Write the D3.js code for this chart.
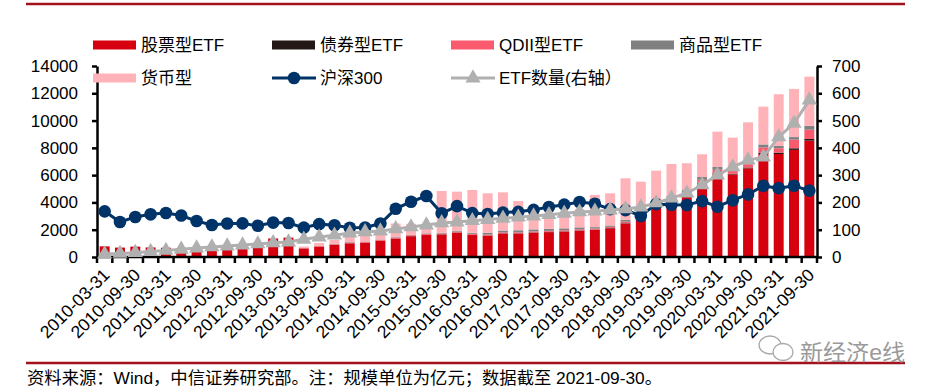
<!DOCTYPE html>
<html>
<head>
<meta charset="utf-8">
<script src="https://cdn.jsdelivr.net/npm/d3@7"></script>
<style>
body { margin: 0; background: #fff; }
svg text { font-family: "Liberation Sans", Arial, "Noto Sans CJK SC", sans-serif; fill: #000; }
</style>
</head>
<body>
<svg id="chart" width="936" height="392"></svg>
<script>
// Quarter-end dates
var quarters = [
    "2010-03-31", "2010-06-30", "2010-09-30", "2010-12-31",
    "2011-03-31", "2011-06-30", "2011-09-30", "2011-12-31",
    "2012-03-31", "2012-06-30", "2012-09-30", "2012-12-31",
    "2013-03-31", "2013-06-30", "2013-09-30", "2013-12-31",
    "2014-03-31", "2014-06-30", "2014-09-30", "2014-12-31",
    "2015-03-31", "2015-06-30", "2015-09-30", "2015-12-31",
    "2016-03-31", "2016-06-30", "2016-09-30", "2016-12-31",
    "2017-03-31", "2017-06-30", "2017-09-30", "2017-12-31",
    "2018-03-31", "2018-06-30", "2018-09-30", "2018-12-31",
    "2019-03-31", "2019-06-30", "2019-09-30", "2019-12-31",
    "2020-03-31", "2020-06-30", "2020-09-30", "2020-12-31",
    "2021-03-31", "2021-06-30", "2021-09-30"
];

// ETF size by type (亿元)
var stockEtf = [780, 690, 760, 700, 680, 660, 580, 620, 650, 700,
    720, 1350, 1400, 620, 760, 880, 1000, 1050, 1200, 1350,
    1520, 1610, 1650, 1780, 1610, 1560, 1720, 1720, 1780, 1820,
    1860, 1920, 1980, 2100, 2450, 2900, 3850, 4150, 4500, 5400,
    6100, 6050, 6500, 7550, 7550, 7850, 8530];
var bondEtf = [0, 0, 0, 0, 0, 0, 0, 0, 0, 0,
    0, 0, 0, 10, 10, 10, 10, 10, 10, 15,
    15, 20, 20, 20, 20, 20, 20, 20, 25, 25,
    25, 30, 30, 30, 30, 30, 40, 40, 40, 40,
    40, 50, 60, 80, 100, 120, 120];
var qdiiEtf = [0, 0, 0, 0, 0, 0, 0, 0, 0, 0,
    20, 30, 40, 40, 40, 45, 50, 50, 50, 55,
    60, 60, 60, 60, 70, 70, 70, 70, 70, 70,
    75, 80, 80, 80, 110, 120, 150, 150, 180, 220,
    250, 200, 250, 400, 320, 630, 680];
var commodityEtf = [0, 0, 0, 0, 0, 0, 0, 0, 0, 0,
    0, 0, 0, 0, 20, 25, 30, 30, 30, 35,
    40, 45, 50, 60, 70, 130, 130, 150, 150, 150,
    140, 140, 100, 100, 140, 150, 160, 160, 180, 200,
    210, 200, 190, 220, 170, 190, 290];
var moneyEtf = [0, 0, 0, 0, 0, 0, 0, 0, 0, 0,
    0, 0, 0, 100, 200, 300, 400, 500, 600, 1000,
    800, 700, 3060, 2870, 3140, 2890, 2800, 2140, 1280, 1040,
    1100, 1330, 2360, 2360, 3040, 2320, 2130, 2320, 1970, 1670,
    2590, 2250, 2870, 2770, 3790, 3530, 3600];

// 沪深300 close
var hs300 = [3346, 2564, 2936, 3128, 3223, 3044, 2634, 2346, 2455, 2462,
    2293, 2523, 2495, 2152, 2409, 2331, 2146, 2165, 2450, 3533,
    4051, 4473, 3203, 3731, 3218, 3154, 3253, 3310, 3456, 3666,
    3837, 4031, 3899, 3510, 3438, 3011, 3873, 3826, 3815, 4097,
    3687, 4164, 4587, 5211, 5048, 5224, 4866];

// ETF count (right axis)
var etfCount = [11, 13, 16, 20, 24, 28, 33, 37, 40, 44,
    48, 52, 55, 65, 73, 80, 88, 92, 95, 103,
    110, 117, 125, 128, 133, 137, 142, 146, 150, 155,
    160, 165, 168, 172, 176, 183, 198, 216, 234, 264,
    300, 330, 355, 366, 440, 490, 575];

var leftTicks = [0, 2000, 4000, 6000, 8000, 10000, 12000, 14000];
var rightTicks = [0, 100, 200, 300, 400, 500, 600, 700];

var seriesNames = ["股票型ETF", "债券型ETF", "QDII型ETF", "商品型ETF", "货币型"];
var seriesColors = ["#d7000f", "#231815", "#fa5a6e", "#808080", "#ffb3b9"];
var hsColor = "#003468", cntColor = "#b0b0b0";

var svg = d3.select("#chart");
var plotLeft = 97, plotRight = 817, plotTop = 66, plotBottom = 257;

var x = d3.scaleBand().domain(quarters).range([plotLeft, plotRight])
    .paddingInner(0.35).paddingOuter(0.175);
var y = d3.scaleLinear().domain([0, 14000]).range([plotBottom, plotTop]);
var y2 = d3.scaleLinear().domain([0, 700]).range([plotBottom, plotTop]);

// stacked bars
var keys = ["stock", "bond", "qdii", "commodity", "money"];
var table = quarters.map(function(q, i) {
    return { q: q, stock: stockEtf[i], bond: bondEtf[i], qdii: qdiiEtf[i],
        commodity: commodityEtf[i], money: moneyEtf[i] };
});
var stacked = d3.stack().keys(keys)(table);

svg.append("g").selectAll("g")
    .data(stacked)
    .enter().append("g")
    .attr("fill", (d, i) => seriesColors[i])
    .selectAll("rect")
    .data(d => d)
    .enter().append("rect")
    .attr("x", d => x(d.data.q))
    .attr("width", x.bandwidth())
    .attr("y", d => y(d[1]))
    .attr("height", d => Math.max(0, y(d[0]) - y(d[1])));

// axes
var step = x.step();
var axisG = svg.append("g");
axisG.append("line")
    .attr("x1", plotLeft).attr("x2", plotRight)
    .attr("y1", plotBottom).attr("y2", plotBottom)
    .attr("stroke", "#000").attr("stroke-width", 2.5);
axisG.selectAll(".xt")
    .data(d3.range(quarters.length + 1))
    .enter().append("line")
    .attr("x1", k => x(quarters[0]) - step * 0.175 + k * step)
    .attr("x2", k => x(quarters[0]) - step * 0.175 + k * step)
    .attr("y1", plotBottom).attr("y2", plotBottom + 6)
    .attr("stroke", "#000").attr("stroke-width", 2.5);

var leftAxis = svg.append("g")
    .attr("transform", "translate(" + plotLeft + ",0)")
    .call(d3.axisLeft(y).tickValues(leftTicks).tickFormat(d3.format("d"))
        .tickSize(5).tickSizeOuter(0).tickPadding(14));
var rightAxis = svg.append("g")
    .attr("transform", "translate(" + plotRight + ",0)")
    .call(d3.axisRight(y2).tickValues(rightTicks).tickFormat(d3.format("d"))
        .tickSize(5).tickSizeOuter(0).tickPadding(10));
[leftAxis, rightAxis].forEach(function(g) {
    g.select(".domain").attr("stroke", "#000").attr("stroke-width", 2.5);
    g.selectAll(".tick line").attr("stroke", "#000").attr("stroke-width", 2.5);
    g.selectAll(".tick text").style("font-size", "17px").attr("fill", "#000");
});

// x labels, every other quarter
svg.append("g").selectAll("text")
    .data(quarters.filter((d, i) => i % 2 === 0))
    .enter().append("text")
    .attr("transform", d => "translate(" + (x(d) + x.bandwidth() / 2 + 6) + "," + (plotBottom + 19) + ") rotate(-45)")
    .attr("text-anchor", "end")
    .style("font-size", "17.5px")
    .text(d => d);

// 沪深300 line
var hsLine = d3.line().x((d, i) => x(quarters[i]) + x.bandwidth() / 2).y(d => y(d));
svg.append("path").datum(hs300)
    .attr("d", hsLine).attr("fill", "none")
    .attr("stroke", hsColor).attr("stroke-width", 3);
svg.append("g").selectAll("circle")
    .data(hs300).enter().append("circle")
    .attr("cx", (d, i) => x(quarters[i]) + x.bandwidth() / 2)
    .attr("cy", d => y(d))
    .attr("r", 6.3).attr("fill", hsColor);

// ETF count line
var cntLine = d3.line().x((d, i) => x(quarters[i]) + x.bandwidth() / 2).y(d => y2(d));
svg.append("path").datum(etfCount)
    .attr("d", cntLine).attr("fill", "none")
    .attr("stroke", cntColor).attr("stroke-width", 3);
var tri = d3.symbol().type(d3.symbolTriangle).size(100);
svg.append("g").selectAll("path")
    .data(etfCount).enter().append("path")
    .attr("d", tri)
    .attr("transform", (d, i) => "translate(" + (x(quarters[i]) + x.bandwidth() / 2) + "," + y2(d) + ")")
    .attr("fill", cntColor);

// legend
var legendCols = [93, 272, 451, 631];
var legendRows = [45, 78];
var legendItems = [
    { name: seriesNames[0], type: "rect", color: seriesColors[0], col: 0, row: 0 },
    { name: seriesNames[1], type: "rect", color: seriesColors[1], col: 1, row: 0 },
    { name: seriesNames[2], type: "rect", color: seriesColors[2], col: 2, row: 0 },
    { name: seriesNames[3], type: "rect", color: seriesColors[3], col: 3, row: 0 },
    { name: seriesNames[4], type: "rect", color: seriesColors[4], col: 0, row: 1 },
    { name: "沪深300", type: "circle", color: hsColor, col: 1, row: 1 },
    { name: "ETF数量(右轴）", type: "tri", color: cntColor, col: 2, row: 1 }
];
var leg = svg.append("g").selectAll("g")
    .data(legendItems).enter().append("g")
    .attr("transform", d => "translate(" + legendCols[d.col] + "," + legendRows[d.row] + ")");
leg.filter(d => d.type === "rect").append("rect")
    .attr("x", 0).attr("y", -4.5).attr("width", 43).attr("height", 9)
    .attr("fill", d => d.color);
leg.filter(d => d.type !== "rect").append("line")
    .attr("x1", 0).attr("x2", 44).attr("y1", 0).attr("y2", 0)
    .attr("stroke", d => d.color).attr("stroke-width", 3);
leg.filter(d => d.type === "circle").append("circle")
    .attr("cx", 22).attr("cy", 0).attr("r", 6.3).attr("fill", d => d.color);
leg.filter(d => d.type === "tri").append("path")
    .attr("d", tri).attr("transform", "translate(22,0)").attr("fill", d => d.color);
leg.append("text")
    .attr("x", 48).attr("y", 6)
    .style("font-size", "17px")
    .text(d => d.name);

// frame lines and note
svg.append("line").attr("x1", 26).attr("x2", 905).attr("y1", 4).attr("y2", 4)
    .attr("stroke", "#a3101e").attr("stroke-width", 2.5);
svg.append("line").attr("x1", 26).attr("x2", 905).attr("y1", 363).attr("y2", 363)
    .attr("stroke", "#a3101e").attr("stroke-width", 2.5);
svg.append("text")
    .attr("x", 27).attr("y", 384)
    .style("font-size", "17px")
    .attr("textLength", 635).attr("lengthAdjust", "spacingAndGlyphs")
    .text("资料来源：Wind，中信证券研究部。注：规模单位为亿元；数据截至 2021-09-30。");

// watermark
var wm = svg.append("g").attr("fill", "#fff").attr("stroke", "#a8a8a8").attr("stroke-width", 1.3);
wm.append("ellipse").attr("cx", 770).attr("cy", 345).attr("rx", 11).attr("ry", 9);
wm.append("ellipse").attr("cx", 783).attr("cy", 352).attr("rx", 10).attr("ry", 8.5);
svg.append("text")
    .attr("x", 800).attr("y", 360)
    .style("font-size", "22px")
    .style("fill", "#9a9a9a")
    .attr("textLength", 105).attr("lengthAdjust", "spacingAndGlyphs")
    .text("新经济e线");
</script>
</body>
</html>
